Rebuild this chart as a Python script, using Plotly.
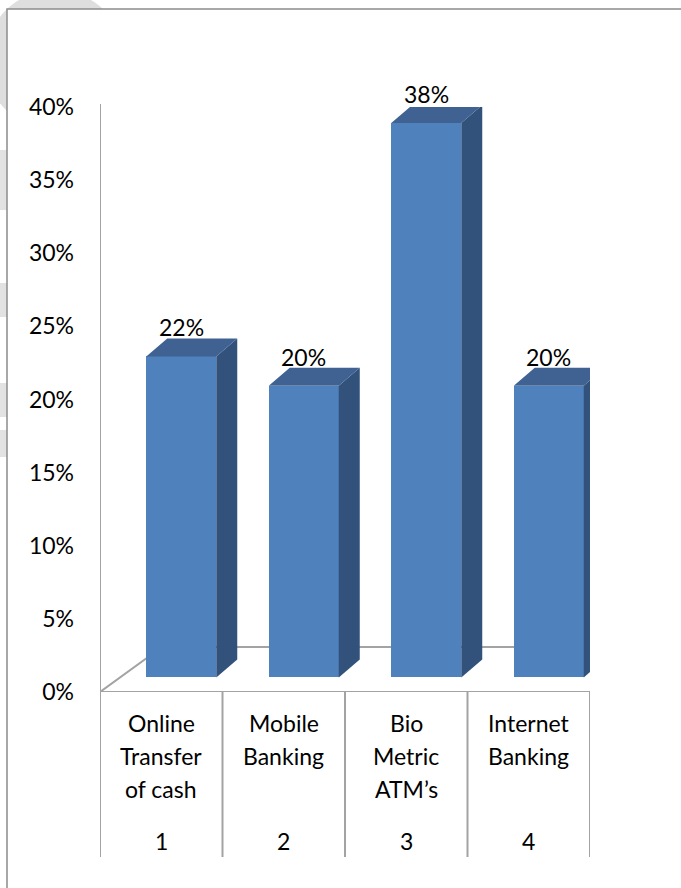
import plotly.graph_objects as go

# ---- data -------------------------------------------------------------
categories = ["Online\nTransfer\nof cash", "Mobile\nBanking", "Bio\nMetric\nATM’s", "Internet\nBanking"]
category_numbers = ["1", "2", "3", "4"]
shares = [22, 20, 38, 20]          # percent
tick_values = [0, 5, 10, 15, 20, 25, 30, 35, 40]
tick_labels = ["0%", "5%", "10%", "15%", "20%", "25%", "30%", "35%", "40%"]

# ---- geometry ---------------------------------------------------------
W, H = 681, 888
L, R, T, B = 100, 91, 107, 196
PW, PH = W - L - R, H - T - B
UNIT_PX = PW / len(categories)          # pixels per category slot

FONT = "Lato"
GREY = "#a3a3a3"
FRONT, TOP, SIDE = "#4f81bd", "#3f6292", "#32527c"

X_SHIFT = 20 / UNIT_PX                   # perspective shift of the bar fronts
BAR_W = 70 / UNIT_PX
DX = 21 / UNIT_PX                        # bar depth, horizontal part
DY_PX = 18                               # bar depth, vertical part (pixels)
Y_RANGE = [0, 40]
Y2_RANGE = [-1.0, 39.1]
DY = DY_PX * (Y2_RANGE[1] - Y2_RANGE[0]) / PH
FLOOR_DX = 62 / UNIT_PX
FLOOR_DY = 45 * (Y_RANGE[1] - Y_RANGE[0]) / PH


def px_x(px):
    return (px - L) / PW


def px_y(py):
    return (H - B - py) / PH


positions = list(range(1, len(categories) + 1))

fig = go.Figure()

# floor of the 3-D plot area
fx = [0.5, len(categories) + 0.5, len(categories) + 0.5 + FLOOR_DX, 0.5 + FLOOR_DX, 0.5]
fy = [0, 0, FLOOR_DY, FLOOR_DY, 0]
fig.add_trace(go.Scatter(x=fx, y=fy, mode="lines", line=dict(color=GREY, width=2),
                         hoverinfo="skip", showlegend=False))

# front faces of the columns
fig.add_trace(go.Bar(x=positions, y=shares, width=BAR_W, xaxis="x2", yaxis="y2",
                     marker=dict(color=FRONT, line=dict(width=0)),
                     showlegend=False, hoverinfo="skip"))

# side and top faces
sx, sy, tx, ty = [], [], [], []
for c, v in zip(positions, shares):
    left, right = c - BAR_W / 2, c + BAR_W / 2
    sx += [right, right + DX, right + DX, right, right, None]
    sy += [0, DY, v + DY, v, 0, None]
    tx += [left, left + DX, right + DX, right, left, None]
    ty += [v, v + DY, v + DY, v, v, None]
fig.add_trace(go.Scatter(x=sx, y=sy, xaxis="x2", yaxis="y2", mode="lines", fill="toself",
                         fillcolor=SIDE, line=dict(width=0, color=SIDE),
                         hoverinfo="skip", showlegend=False))
fig.add_trace(go.Scatter(x=tx, y=ty, xaxis="x2", yaxis="y2", mode="lines", fill="toself",
                         fillcolor=TOP, line=dict(width=0, color=TOP),
                         hoverinfo="skip", showlegend=False))

annotations = []
# value labels above the columns
for c, v in zip(positions, shares):
    annotations.append(dict(x=c, y=v, xref="x2", yref="y2", text=f"{v}%",
                            showarrow=False, yanchor="middle", yshift=DY_PX + 11,
                            font=dict(family=FONT, size=23, color="#000")))

# two-level category labels
for c, label, num in zip(positions, categories, category_numbers):
    for i, line in enumerate(label.split("\n")):
        annotations.append(dict(x=c, y=px_y(723 + 33 * i), xref="x", yref="paper",
                                text=line, showarrow=False, yanchor="middle",
                                font=dict(family=FONT, size=23, color="#000")))
    annotations.append(dict(x=c, y=px_y(841), xref="x", yref="paper", text=num,
                            showarrow=False, yanchor="middle",
                            font=dict(family=FONT, size=23, color="#000")))

shapes = [
    # faint background emblem
    dict(type="circle", xref="paper", yref="paper", layer="below",
         x0=px_x(-15), x1=px_x(125), y0=px_y(-10), y1=px_y(130),
         fillcolor="#dedede", line=dict(width=0)),
]
for y_top, y_bot in [(150, 210), (283, 317), (383, 417), (430, 457)]:
    shapes.append(dict(type="rect", xref="paper", yref="paper", layer="below",
                       x0=px_x(0), x1=px_x(7), y0=px_y(y_top), y1=px_y(y_bot),
                       fillcolor="#e2e2e2", line=dict(width=0)))
# chart frame
shapes.append(dict(type="rect", xref="paper", yref="paper", layer="below",
                   x0=px_x(7), x1=px_x(W + 20), y0=px_y(9), y1=px_y(H + 20),
                   fillcolor="white", line=dict(color="#8c8c8c", width=1.5)))
# value axis line and category dividers
shapes.append(dict(type="line", xref="x", yref="paper", x0=0.5, x1=0.5,
                   y0=px_y(104), y1=px_y(857), line=dict(color=GREY, width=2)))
for k in range(1, len(categories) + 1):
    shapes.append(dict(type="line", xref="x", yref="paper", x0=k + 0.5, x1=k + 0.5,
                       y0=px_y(692), y1=px_y(857), line=dict(color=GREY, width=2)))

fig.update_layout(
    width=W, height=H,
    margin=dict(l=L, r=R, t=T, b=B),
    paper_bgcolor="white", plot_bgcolor="rgba(0,0,0,0)",
    xaxis=dict(range=[0.5, len(categories) + 0.5], showticklabels=False, showgrid=False,
               zeroline=False, showline=False, ticks=""),
    xaxis2=dict(range=[0.5 - X_SHIFT, len(categories) + 0.5 - X_SHIFT], overlaying="x",
                visible=False),
    yaxis=dict(range=Y_RANGE, tickvals=tick_values, ticktext=tick_labels, showgrid=False,
               zeroline=False, showline=False, ticks="", ticklabelstandoff=25,
               tickfont=dict(family=FONT, size=23, color="#000")),
    yaxis2=dict(range=Y2_RANGE, overlaying="y", visible=False),
    bargap=0,
    annotations=annotations,
    shapes=shapes,
    showlegend=False,
)

fig.write_html("out.html")
